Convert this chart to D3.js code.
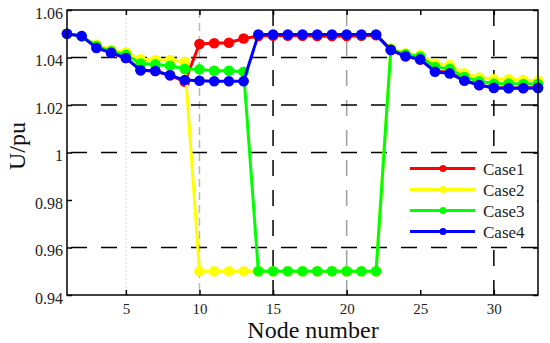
<!DOCTYPE html>
<html>
<head>
<meta charset="utf-8">
<script src="https://d3js.org/d3.v7.min.js"></script>
<style>
body { margin: 0; background: #fff; }
svg { display: block; }
</style>
</head>
<body>
<svg id="chart" width="550" height="343"></svg>
<script>
// node numbers along the feeder
var nodes = [1,2,3,4,5,6,7,8,9,10,11,12,13,14,15,16,17,18,19,20,21,22,23,24,25,26,27,28,29,30,31,32,33];

var case1 = [1.050,1.049,1.0445,1.042,1.0398,1.0346,1.0343,1.0325,1.0298,1.0457,1.046,1.0462,1.048,1.049,
  1.0492,1.0492,1.0492,1.0490,1.0490,1.0490,1.0492,1.0494,
  1.0432,1.0405,1.0392,1.0343,1.0337,1.0305,1.0283,1.0274,1.0272,1.0272,1.0274];
var case2 = [1.050,1.049,1.0453,1.0432,1.0422,1.0392,1.0389,1.0389,1.0382,
  0.95,0.95,0.95,0.95,0.95,0.95,0.95,0.95,0.95,0.95,0.95,0.95,0.95,
  1.0440,1.0418,1.041,1.0375,1.0368,1.0333,1.0316,1.0308,1.0308,1.0305,1.0302];
var case3 = [1.050,1.049,1.0448,1.0426,1.0411,1.0375,1.0371,1.0365,1.0352,1.035,1.0344,1.0344,1.034,
  0.95,0.95,0.95,0.95,0.95,0.95,0.95,0.95,0.95,
  1.0434,1.0413,1.0403,1.036,1.0352,1.0318,1.030,1.029,1.029,1.0288,1.0288];
var case4 = [1.050,1.049,1.044,1.042,1.0398,1.0346,1.0343,1.0325,1.0305,1.0302,1.030,1.030,1.030,
  1.0497,1.0497,1.0497,1.0497,1.0497,1.0497,1.0497,1.0497,1.0497,
  1.0432,1.0405,1.0392,1.034,1.0333,1.0302,1.0284,1.0272,1.0271,1.0271,1.0272];

var caseNames = ['Case1','Case2','Case3','Case4'];
var caseColors = ['#ff0000','#ffff00','#00ff00','#0000ff'];

var xTicks = [5,10,15,20,25,30];
var yTicks = [0.94,0.96,0.98,1.00,1.02,1.04,1.06];
var yTickLabels = ['0.94','0.96','0.98','1','1.02','1.04','1.06'];

var serif = "'Liberation Serif', 'Times New Roman', Times, serif";
var svg = d3.select('#chart').attr('font-family', serif);
var pLeft = 67, pRight = 538, pTop = 10, pBottom = 295;

var x = d3.scaleLinear().domain([1,33]).range([pLeft,pRight]);
var y = d3.scaleLinear().domain([0.94,1.06]).range([pBottom,pTop]);

// grid lines (matlab figure has mixed styles)
var vGrid = [
  {v:5, color:'#e4e4e4', dash:'2,2'},
  {v:10, color:'#b8b8b8', dash:'8,5'},
  {v:15, color:'#000', dash:'16,14'},
  {v:20, color:'#a0a0a0', dash:'16,14'},
  {v:30, color:'#000', dash:'16,14'}
];
var hGrid = [0.96,1.00,1.02,1.04];

var grid = svg.append('g');
grid.selectAll('.vg').data(vGrid).enter().append('line')
  .attr('x1', d => x(d.v)).attr('x2', d => x(d.v))
  .attr('y1', pTop).attr('y2', pBottom)
  .attr('stroke', d => d.color)
  .attr('stroke-width', 1.5)
  .attr('stroke-dasharray', d => d.dash);
grid.selectAll('.hg').data(hGrid).enter().append('line')
  .attr('x1', pLeft).attr('x2', pRight)
  .attr('y1', d => y(d)).attr('y2', d => y(d))
  .attr('stroke', '#000')
  .attr('stroke-width', 1.5)
  .attr('stroke-dasharray', '16,14')
  .attr('stroke-dashoffset', -4);

// series
var series = [case1, case2, case3, case4];
var line = d3.line().x((d,i) => x(nodes[i])).y(d => y(d));

series.forEach(function(vals, k){
  var g = svg.append('g');
  g.append('path')
    .attr('d', line(vals))
    .attr('fill', 'none')
    .attr('stroke', caseColors[k])
    .attr('stroke-width', 3);
  g.selectAll('circle').data(vals).enter().append('circle')
    .attr('cx', (d,i) => x(nodes[i]))
    .attr('cy', d => y(d))
    .attr('r', 5.3)
    .attr('fill', caseColors[k]);
});

// axes box
var axisG = svg.append('g');
axisG.append('rect')
  .attr('x', pLeft).attr('y', pTop)
  .attr('width', pRight-pLeft).attr('height', pBottom-pTop)
  .attr('fill', 'none').attr('stroke', '#000').attr('stroke-width', 1.5);

var bottomAxis = d3.axisBottom(x).tickValues(xTicks).tickSize(-5).tickPadding(8).tickFormat(d3.format('d'));
var gx = axisG.append('g').attr('transform', `translate(0,${pBottom})`).call(bottomAxis);
var topAxis = d3.axisTop(x).tickValues(xTicks).tickSize(-5).tickFormat('');
var gxt = axisG.append('g').attr('transform', `translate(0,${pTop})`).call(topAxis);
var leftAxis = d3.axisLeft(y).tickValues(yTicks).tickSize(-5).tickPadding(4).tickFormat((d,i) => yTickLabels[i]);
var gy = axisG.append('g').attr('transform', `translate(${pLeft},0)`).call(leftAxis);
var rightAxis = d3.axisRight(y).tickValues(yTicks).tickSize(-5).tickFormat('');
var gyr = axisG.append('g').attr('transform', `translate(${pRight},0)`).call(rightAxis);

[gx,gxt,gy,gyr].forEach(function(g){
  g.attr('font-family', serif);
  g.select('.domain').remove();
  g.selectAll('.tick line').attr('stroke','#000').attr('stroke-width',1.5);
});
gx.selectAll('.tick text').attr('font-size', 15).attr('fill','#222');
gy.selectAll('.tick text').attr('font-size', 16).attr('fill','#222')
  .attr('dy','0.5em');

// axis titles
svg.append('text')
  .attr('x', 313).attr('y', 338)
  .attr('text-anchor','middle')
  .attr('font-size', 24)
  .attr('fill','#111')
  .text('Node number');
svg.append('text')
  .attr('transform','translate(25,146) rotate(-90)')
  .attr('text-anchor','middle')
  .attr('font-size', 24)
  .attr('fill','#111')
  .text('U/pu');

// legend
var legend = svg.append('g');
legend.append('rect')
  .attr('x', 405).attr('y', 157).attr('width', 132).attr('height', 84)
  .attr('fill', '#fff');
var legendY = d3.scaleBand().domain(caseNames).range([157, 241]).paddingInner(0);
var items = legend.selectAll('.item').data(caseNames).enter().append('g')
  .attr('transform', d => `translate(0,${legendY(d) + legendY.bandwidth()/2 + 1})`);
items.append('line')
  .attr('x1', 410).attr('x2', 475)
  .attr('stroke', (d,i) => caseColors[i]).attr('stroke-width', 3);
items.append('circle')
  .attr('cx', 443).attr('r', 3.5)
  .attr('fill', (d,i) => caseColors[i]);
items.append('text')
  .attr('x', 483).attr('y', 6)
  .attr('font-size', 17)
  .attr('fill','#222')
  .text(d => d);
</script>
</body>
</html>
